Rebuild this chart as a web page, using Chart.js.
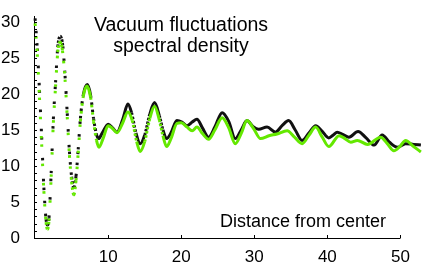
<!DOCTYPE html>
<html>
<head>
<meta charset="utf-8">
<script src="https://cdn.jsdelivr.net/npm/chart.js@4.4.0/dist/chart.umd.min.js"></script>
<style>
  html, body { margin: 0; padding: 0; background: #fff; }
  #wrap { width: 436px; height: 266px; }
</style>
</head>
<body>
<div id="wrap"><canvas id="chart"></canvas></div>
<script>
// Values
const blackX = [0, 0.3, 0.6, 0.9, 1.2, 1.5, 1.7, 1.9, 2.2, 2.5, 2.8, 3.1, 3.45, 3.8, 4.1, 4.4, 4.7, 5.0, 5.3, 5.6,
  5.9, 6.2, 6.6, 7.15, 7.6, 8.0, 8.4, 8.7, 9.2, 10.0, 10.6, 11.2, 12.0, 12.7, 13.2, 13.8, 14.4, 15.0, 15.7, 16.35,
  17.0, 17.5, 18.0, 18.6, 19.4, 20.1, 20.8, 21.5, 22.15, 22.9, 23.75, 24.6, 25.6, 26.5, 27.4, 28.2, 29.0, 29.8, 30.6, 31.75,
  32.9, 33.8, 34.7, 35.6, 36.55, 37.5, 38.4, 39.3, 40.2, 40.8, 41.35, 42.1, 42.95, 44.2, 45.3, 46.4, 47.5, 48.5, 49.6, 50.7,
  51.8, 52.8];
const blackY = [30.5, 26.3, 20.5, 14.0, 7.0, 2.6, 1.8, 2.8, 9.0, 16.5, 21.6, 26.5, 28.0, 26.6, 22.5, 17.3, 12.0, 8.5, 7.0, 8.6,
  12.3, 16.6, 19.9, 21.3, 19.8, 16.6, 14.4, 13.8, 14.6, 15.8, 15.3, 14.7, 16.5, 18.6, 17.4, 14.6, 13.1, 14.3, 17.2, 18.8,
  17.0, 15.0, 13.8, 14.6, 16.3, 16.1, 15.6, 16.1, 16.5, 15.3, 14.0, 15.4, 17.4, 16.2, 13.8, 15.0, 16.3, 15.5, 15.1, 15.4,
  14.7, 15.6, 16.3, 15.0, 13.55, 14.6, 15.6, 14.8, 13.9, 14.3, 14.7, 14.4, 14.0, 14.8, 13.9, 12.9, 14.3, 13.3, 12.6, 13.1,
  13.0, 12.9];

const greenX = [0, 0.3, 0.6, 0.9, 1.2, 1.5, 1.7, 1.9, 2.2, 2.5, 2.8, 3.1, 3.4, 3.75, 4.1, 4.4, 4.7, 5.0, 5.3, 5.6,
  5.9, 6.2, 6.6, 7.1, 7.6, 8.0, 8.4, 8.75, 9.3, 10.0, 10.6, 11.2, 12.0, 12.7, 13.3, 13.9, 14.4, 15.0, 15.7, 16.35,
  17.0, 17.5, 18.0, 18.6, 19.4, 20.0, 20.8, 21.5, 22.15, 22.9, 23.75, 24.6, 25.6, 26.5, 27.4, 28.2, 29.0, 29.9, 30.85, 32.0,
  33.1, 34.5, 35.5, 36.55, 37.5, 38.4, 39.3, 40.2, 41.6, 42.4, 43.2, 44.1, 45.5, 47.3, 48.2, 49.1, 50.0, 50.7, 51.8, 52.8];
const greenY = [29.8, 25.5, 19.5, 13.0, 6.5, 2.2, 1.2, 2.4, 8.5, 16.0, 21.0, 25.8, 27.2, 26.0, 22.0, 16.8, 11.5, 7.8, 6.0, 8.0,
  11.8, 16.2, 19.7, 21.1, 19.5, 16.2, 13.6, 12.6, 13.8, 15.6, 15.2, 14.6, 16.0, 17.5, 16.3, 13.4, 12.0, 13.4, 16.6, 18.3,
  16.4, 14.2, 12.7, 13.8, 15.9, 16.0, 15.4, 14.9, 15.4, 14.5, 13.7, 15.0, 16.7, 15.3, 13.1, 14.5, 16.3, 15.2, 13.8, 14.2,
  14.45, 14.9, 14.0, 13.1, 14.3, 15.4, 14.0, 12.7, 14.2, 13.8, 13.3, 13.55, 13.0, 14.0, 13.1, 12.1, 12.8, 13.55, 12.7, 11.95];

const yTicks = [0, 5, 10, 15, 20, 25, 30];
const xTicks = [10, 20, 30, 40, 50];
const titleLines = ['Vacuum fluctuations', 'spectral density'];
const xAxisLabel = 'Distance from center';

const FONT = '"Liberation Sans", Arial, Helvetica, sans-serif';

function toPoints(xs, ys) {
    return xs.map((x, i) => ({ x: x, y: ys[i] }));
}

// steep segments break up into separate dots, flat ones look solid
function dotDash(ctx) {
    const dx = Math.abs(ctx.p1.x - ctx.p0.x) || 0.01;
    const dy = Math.abs(ctx.p1.y - ctx.p0.y);
    const gap = 0.9 * Math.sqrt(1 + (dy / dx) * (dy / dx)) - 2.5;
    return gap > 0.6 ? [2.5, gap] : undefined;
}

// x axis line (stops at the last tick), inward tick marks, text labels
const decorations = {
    id: 'decorations',
    afterDraw(chart) {
        const c = chart.ctx;
        const xs = chart.scales.x;
        const ys = chart.scales.y;
        const area = chart.chartArea;
        const lastX = Math.round(xs.getPixelForValue(xTicks[xTicks.length - 1])) + 0.5;
        c.save();
        c.strokeStyle = '#000';
        c.lineWidth = 1;
        c.beginPath();
        c.moveTo(area.left, area.bottom + 0.5);
        c.lineTo(lastX, area.bottom + 0.5);
        for (let v = 1; v <= 30; v++) {
            const py = Math.round(ys.getPixelForValue(v)) + 0.5;
            c.moveTo(area.left, py);
            c.lineTo(area.left + 3, py);
        }
        xTicks.forEach(v => {
            const px = Math.round(xs.getPixelForValue(v)) + 0.5;
            c.moveTo(px, area.bottom);
            c.lineTo(px, area.bottom - 3);
        });
        c.stroke();

        c.fillStyle = '#000';
        c.textAlign = 'center';
        c.textBaseline = 'middle';
        c.font = '19.5px ' + FONT;
        c.fillText(titleLines[0], 181, 26);
        c.fillText(titleLines[1], 181, 47);
        c.font = '18px ' + FONT;
        c.fillText(xAxisLabel, 303, 222);
        c.restore();
    }
};

const chart = new Chart(document.getElementById('chart'), {
    type: 'scatter',
    data: {
        datasets: [{
            label: 'green',
            data: toPoints(greenX, greenY),
            showLine: true,
            borderColor: 'rgb(100, 232, 0)',
            borderWidth: 3,
            pointRadius: 0,
            cubicInterpolationMode: 'monotone',
            clip: false,
            order: 0,
            segment: { borderDash: dotDash }
        }, {
            label: 'black',
            data: toPoints(blackX, blackY),
            showLine: true,
            borderColor: '#111',
            borderWidth: 3,
            pointRadius: 0,
            cubicInterpolationMode: 'monotone',
            clip: false,
            order: 1,
            segment: { borderDash: dotDash }
        }]
    },
    options: {
        responsive: true,
        maintainAspectRatio: false,
        animation: false,
        layout: { padding: { left: 0, right: 10, top: 12, bottom: 0 } },
        plugins: {
            legend: { display: false },
            tooltip: { enabled: false }
        },
        scales: {
            x: {
                type: 'linear',
                min: -0.15,
                max: 53.5,
                grid: { display: false },
                border: { display: false },
                afterBuildTicks: scale => { scale.ticks = xTicks.map(v => ({ value: v })); },
                afterFit: scale => { scale.height = 28; },
                ticks: {
                    color: '#000',
                    font: { family: FONT, size: 17 },
                    padding: 1,
                    maxRotation: 0
                }
            },
            y: {
                min: 0,
                max: 30.8,
                grid: { display: false },
                border: { display: true, color: '#000', width: 1 },
                afterBuildTicks: scale => { scale.ticks = yTicks.map(v => ({ value: v })); },
                afterFit: scale => { scale.width = 34; },
                ticks: {
                    color: '#000',
                    font: { family: FONT, size: 17 },
                    padding: 6
                }
            }
        }
    },
    plugins: [decorations]
});
</script>
</body>
</html>
